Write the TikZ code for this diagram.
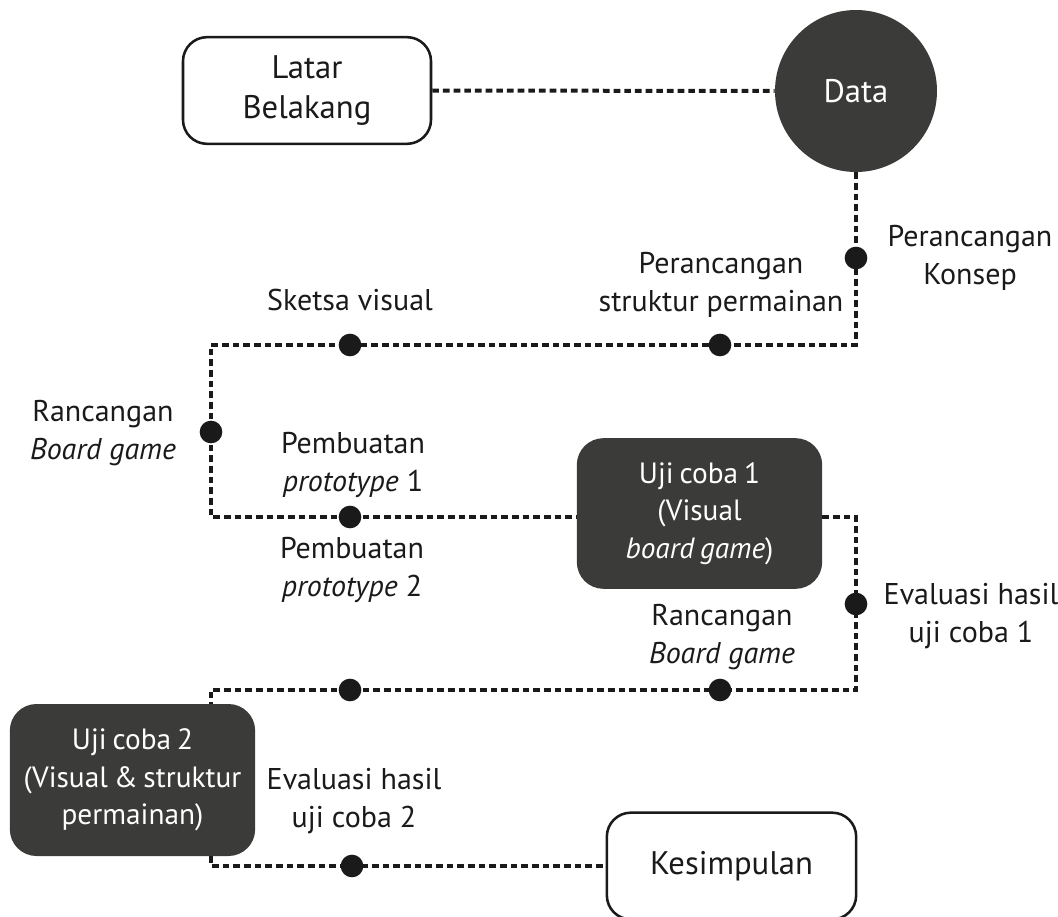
\documentclass[tikz,border=0pt]{standalone}
\usepackage{fontspec}
\setmainfont{PT Sans}
\definecolor{darkfill}{HTML}{3B3B3A}
\definecolor{ink}{HTML}{1A1A1A}
\newcommand{\lblfont}{\fontsize{22.5pt}{28pt}\selectfont}
\newcommand{\boxfont}{\fontsize{24.5pt}{30pt}\selectfont}
\newcommand{\ujifont}{\fontsize{22pt}{28pt}\selectfont\spaceskip=0.2em plus 0.05em}
\begin{document}
\begin{tikzpicture}[x=0.75pt,y=-0.75pt,
  conn/.style={draw=ink, line width=3pt, dash pattern=on 5pt off 3pt},
  whitebox/.style={draw=ink, text=ink, line width=1.9pt, rounded corners=18pt, align=center, font=\boxfont, inner sep=0pt},
  darkbox/.style={fill=darkfill, rounded corners=20pt, text=white, align=center, font=\ujifont, inner sep=0pt},
  dotmark/.style={circle, fill=ink, inner sep=0pt, minimum size=17pt},
  lbl/.style={align=center, font=\lblfont, text=ink, inner sep=0pt}]
\useasboundingbox (0,0) rectangle (1058,917);

% main nodes
\node[whitebox, minimum width=186pt, minimum height=80pt] (latar) at (307,90.5) {Latar\\Belakang};
\node[circle, fill=darkfill, text=white, minimum size=121.5pt, inner sep=0pt,
      font=\boxfont] (data) at (856,91) {Data};
\node[darkbox, minimum width=184pt, minimum height=113pt] (uji1) at (699.5,513.5)
      {\raisebox{3pt}{\begin{tabular}{@{}c@{}}Uji coba 1\\(Visual\\\textit{board game})\end{tabular}}};
\node[darkbox, minimum width=184pt, minimum height=114pt] (uji2) at (132.5,780)
      {Uji coba 2\\(Visual \& struktur\\permainan)};
\node[whitebox, minimum width=187pt, minimum height=80pt] (kes) at (731.5,866) {Kesimpulan};

% junction points
\coordinate (d1) at (856,258);
\coordinate (d2) at (720,345);
\coordinate (d3) at (350,345);
\coordinate (d4) at (211,432);
\coordinate (d5) at (350,517);
\coordinate (d6) at (856,604);
\coordinate (d7) at (720,690);
\coordinate (d8) at (350,690);
\coordinate (d9) at (352,866);

% connectors
\draw[conn] (latar.east) -- (data.west);
\draw[conn] (data.south) -- (d1) |- (d2) -- (d3) -| (d4) |- (d5) -- (uji1.west |- d5);
\draw[conn] (uji1.east |- d5) -| (d6) |- (d7) -- (d8) -| (uji2.north -| d4);
\draw[conn] (uji2.south -| d4) |- (d9) -- (kes.west);

% dots
\foreach \d in {d1,d2,d3,d4,d5,d6,d7,d8,d9} \node[dotmark] at (\d) {};

% labels
\node[lbl] (lkonsep) at (970,258) {Perancangan\\Konsep};
\node[lbl] (lstruktur) at (721,285) {Perancangan\\struktur permainan};
\node[lbl] (lsketsa) at (350,300) {Sketsa visual};
\node[lbl] (lrbg1) at (103,433) {Rancangan\\\textit{Board game}};
\node[lbl] (lproto1) at (353,465) {Pembuatan\\\textit{prototype} 1};
\node[lbl] (leval1) at (971,616) {Evaluasi hasil\\uji coba 1};
\node[lbl] (lrbg2) at (722,637) {Rancangan\\\textit{Board game}};
\node[lbl] (lproto2) at (352,570) {Pembuatan\\\textit{prototype} 2};
\node[lbl] (leval2) at (354,801) {Evaluasi hasil\\uji coba 2};
\end{tikzpicture}
\end{document}
